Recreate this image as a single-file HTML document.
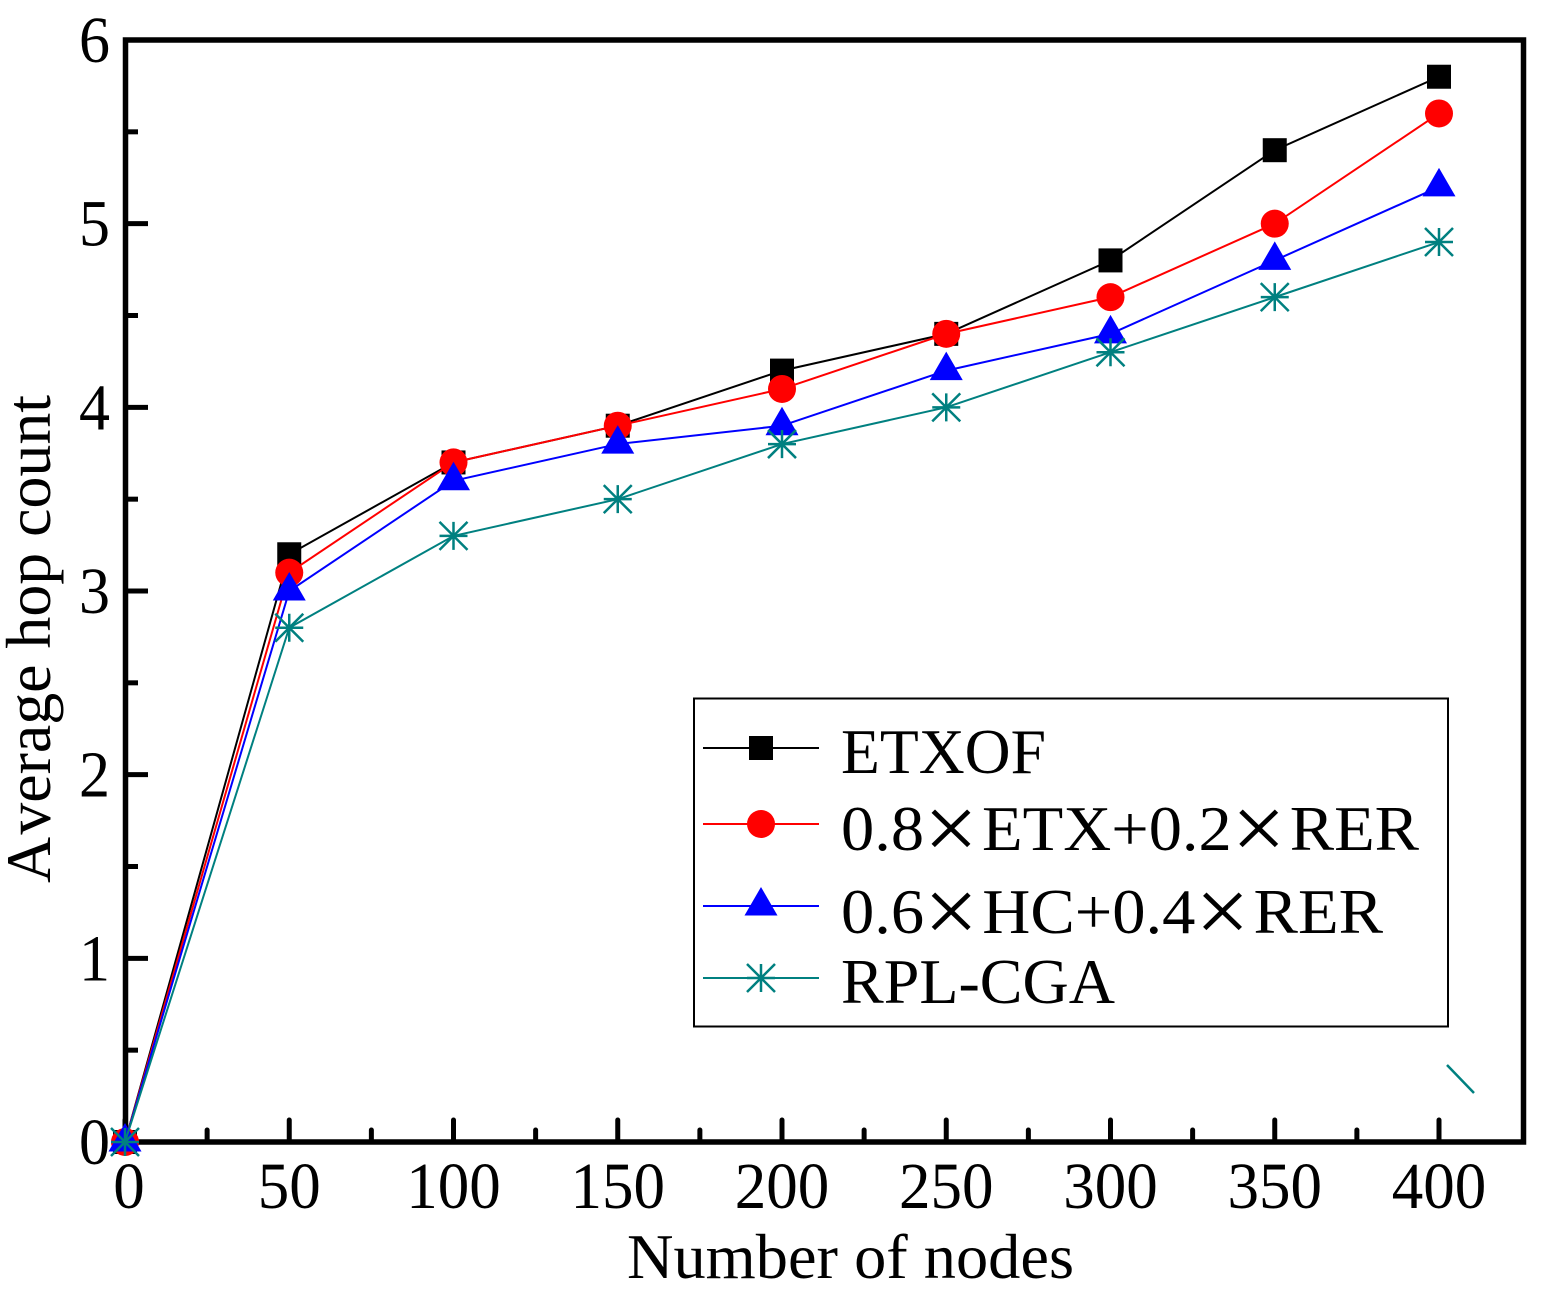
<!DOCTYPE html>
<html lang="en">
<head>
<meta charset="utf-8">
<title>Average hop count vs number of nodes</title>
<style>
html,body{margin:0;padding:0;background:#fff;width:1548px;height:1291px;overflow:hidden}
svg{display:block}
text{font-family:"Liberation Serif","Noto Serif CJK SC",serif;fill:#000}
</style>
</head>
<body>
<svg id="chart" xmlns="http://www.w3.org/2000/svg" width="1548" height="1291" viewBox="0 0 1548 1291">
  <rect x="0" y="0" width="1548" height="1291" fill="#fff"/>
  <line x1="1447" y1="1065" x2="1474" y2="1093" stroke="#008080" stroke-width="2.5"/>
  <g id="plot"></g>
  <rect x="125.5" y="40" width="1398" height="1102" fill="none" stroke="#000" stroke-width="5.5"/>
  <g id="ticks"></g>
  <g id="marks"></g>
  <text x="627" y="1278" font-size="64" textLength="447" lengthAdjust="spacingAndGlyphs">Number of nodes</text>
  <text transform="translate(50,883) rotate(-90)" font-size="64" textLength="488" lengthAdjust="spacingAndGlyphs">A<tspan dx="7">verage hop count</tspan></text>
  <g>
    <rect x="694" y="698.5" width="754" height="328" fill="#fff" stroke="#000" stroke-width="2"/>
    <g id="legend-marks"></g>
    <text x="841" y="773" font-size="64" textLength="205" lengthAdjust="spacingAndGlyphs">ETXOF</text>
    <text x="841" y="850" font-size="64" textLength="578" lengthAdjust="spacingAndGlyphs">0.8<tspan font-size="92" dy="9">×</tspan><tspan dy="-9" dx="4">ETX+0.2</tspan><tspan font-size="92" dy="9">×</tspan><tspan dy="-9" dx="4">RER</tspan></text>
    <text x="841" y="933" font-size="64" textLength="542" lengthAdjust="spacingAndGlyphs">0.6<tspan font-size="92" dy="9">×</tspan><tspan dy="-9" dx="4">HC+0.4</tspan><tspan font-size="92" dy="9">×</tspan><tspan dy="-9" dx="4">RER</tspan></text>
    <text x="841" y="1003" font-size="64" textLength="274" lengthAdjust="spacingAndGlyphs">RPL-CGA</text>
  </g>
</svg>
<script>
const categories = [0, 50, 100, 150, 200, 250, 300, 350, 400];
const etxofValues = [0, 3.2, 3.7, 3.9, 4.2, 4.4, 4.8, 5.4, 5.8];
const etxRerValues = [0, 3.1, 3.7, 3.9, 4.1, 4.4, 4.6, 5.0, 5.6];
const hcRerValues = [0, 3.0, 3.6, 3.8, 3.9, 4.2, 4.4, 4.8, 5.2];
const rplCgaValues = [0, 2.8, 3.3, 3.5, 3.8, 4.0, 4.3, 4.6, 4.9];
const xTickLabels = [0, 50, 100, 150, 200, 250, 300, 350, 400];
const xMinorTicks = [25, 75, 125, 175, 225, 275, 325, 375];
const yTickLabels = [0, 1, 2, 3, 4, 5, 6];
const yMinorTicks = [0.5, 1.5, 2.5, 3.5, 4.5, 5.5];

const NS = 'http://www.w3.org/2000/svg';
const xAxis = v => 125 + v * (1439 - 125) / 400;
const yAxis = v => 1142 - v * (1142 - 40) / 6;

function make(parent, tag, attrs) {
  const el = document.createElementNS(NS, tag);
  for (const k in attrs) el.setAttribute(k, attrs[k]);
  parent.appendChild(el);
  return el;
}

const ticksG = document.getElementById('ticks');
const marksG = document.getElementById('marks');
const legendG = document.getElementById('legend-marks');

function xTick(v, len) {
  const t = make(ticksG, 'line', {x1: xAxis(v), x2: xAxis(v), y1: 1142, y2: 1142 - len, stroke: '#000', 'stroke-width': 5, 'stroke-linecap': 'round'});
  
  
}
function yTick(v, len) {
  const t = make(ticksG, 'line', {x1: 125, x2: 125 + len, y1: yAxis(v), y2: yAxis(v), stroke: '#000', 'stroke-width': 5});
  
  
}
xMinorTicks.forEach(v => xTick(v, 12));
yMinorTicks.forEach(v => yTick(v, 13));
xTickLabels.forEach(v => {
  xTick(v, 22);
  const s = String(v);
  const t = make(ticksG, 'text', {x: xAxis(v) + (v === 0 ? 4 : 0), y: 1208, 'font-size': 66, 'text-anchor': 'middle', textLength: s.length * 31.5, lengthAdjust: 'spacingAndGlyphs'});
  
  
  t.textContent = s;
});
yTickLabels.forEach(v => {
  yTick(v, 23);
  const t = make(ticksG, 'text', {x: 110, y: yAxis(v) + 22, 'font-size': 66, 'text-anchor': 'end', textLength: 31, lengthAdjust: 'spacingAndGlyphs'});
  
  
  t.textContent = String(v);
});

function drawMarker(parent, kind, color, cx, cy) {
  let m;
  if (kind === 'square') {
    m = make(parent, 'rect', {x: cx - 12, y: cy - 12, width: 24, height: 24, fill: color});
  } else if (kind === 'circle') {
    m = make(parent, 'circle', {cx: cx, cy: cy, r: 14, fill: color});
  } else if (kind === 'triangle') {
    m = make(parent, 'polygon', {points: (cx) + ',' + (cy - 19) + ' ' + (cx + 16.5) + ',' + (cy + 9.5) + ' ' + (cx - 16.5) + ',' + (cy + 9.5), fill: color});
  } else {
    const d = 'M' + (cx - 14) + ' ' + cy + 'H' + (cx + 14) +
      'M' + cx + ' ' + (cy - 14) + 'V' + (cy + 14) +
      'M' + (cx - 14) + ' ' + (cy - 14) + 'L' + (cx + 14) + ' ' + (cy + 14) +
      'M' + (cx + 14) + ' ' + (cy - 14) + 'L' + (cx - 14) + ' ' + (cy + 14);
    m = make(parent, 'path', {d: d, fill: 'none', stroke: color, 'stroke-width': 2.5});
  }
  
  
}

function drawSeries(values, kind, color, name, legendY) {
  const g = make(marksG, 'g', {});
  
  
  const pts = values.map((v, i) => xAxis(categories[i]) + ',' + yAxis(v)).join(' ');
  const line = make(g, 'polyline', {points: pts, fill: 'none', stroke: color, 'stroke-width': 2});
  
  
  values.forEach((v, i) => drawMarker(g, kind, color, xAxis(categories[i]), yAxis(v)));

  const key = make(legendG, 'line', {x1: 703, x2: 819, y1: legendY, y2: legendY, stroke: color, 'stroke-width': 2});
  
  
  drawMarker(legendG, kind, color, 761, legendY);
}

drawSeries(etxofValues, 'square', '#000000', 'series-etxof', 748);
drawSeries(etxRerValues, 'circle', '#ff0000', 'series-etx-rer', 824);
drawSeries(hcRerValues, 'triangle', '#0000ff', 'series-hc-rer', 906);
drawSeries(rplCgaValues, 'star', '#008080', 'series-rpl-cga', 978);
</script>
</body>
</html>
